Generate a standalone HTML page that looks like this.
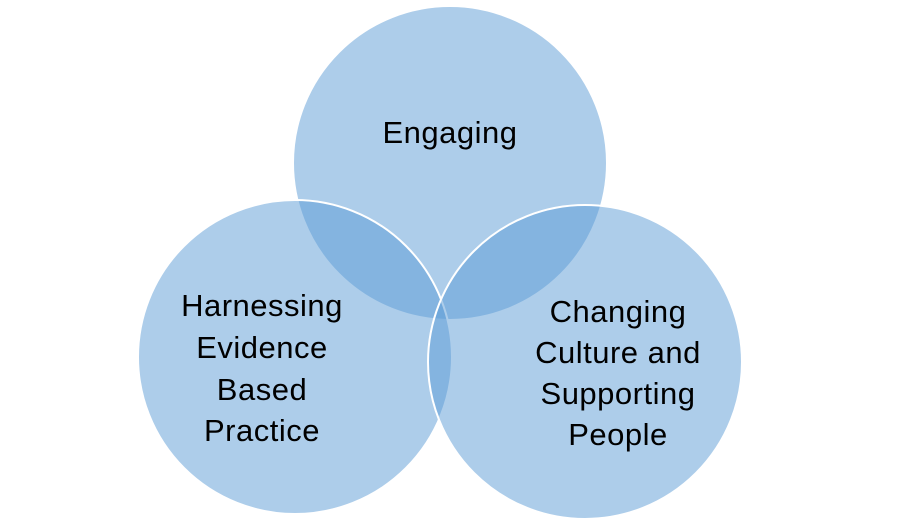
<!DOCTYPE html>
<html><head><style>
html,body{margin:0;padding:0;background:#fff;}
svg text{font-family:"Liberation Sans",sans-serif;font-size:31px;fill:#000;text-anchor:middle;letter-spacing:0.5px;}
</style></head><body>
<svg width="900" height="525" viewBox="0 0 900 525" xmlns="http://www.w3.org/2000/svg">
<circle cx="450" cy="163" r="157" fill="#5b9bd5" fill-opacity="0.5" stroke="#fff" stroke-width="2"/>
<circle cx="295" cy="357" r="157" fill="#5b9bd5" fill-opacity="0.5" stroke="#fff" stroke-width="2"/>
<circle cx="585" cy="362" r="157" fill="#5b9bd5" fill-opacity="0.5" stroke="#fff" stroke-width="2"/>
<text x="450" y="143">Engaging</text>
<text x="262" y="316">Harnessing</text>
<text x="262" y="358">Evidence</text>
<text x="262" y="400">Based</text>
<text x="262" y="441">Practice</text>
<text x="618" y="322">Changing</text>
<text x="618" y="363">Culture and</text>
<text x="618" y="404">Supporting</text>
<text x="618" y="445">People</text>
</svg>
</body></html>
